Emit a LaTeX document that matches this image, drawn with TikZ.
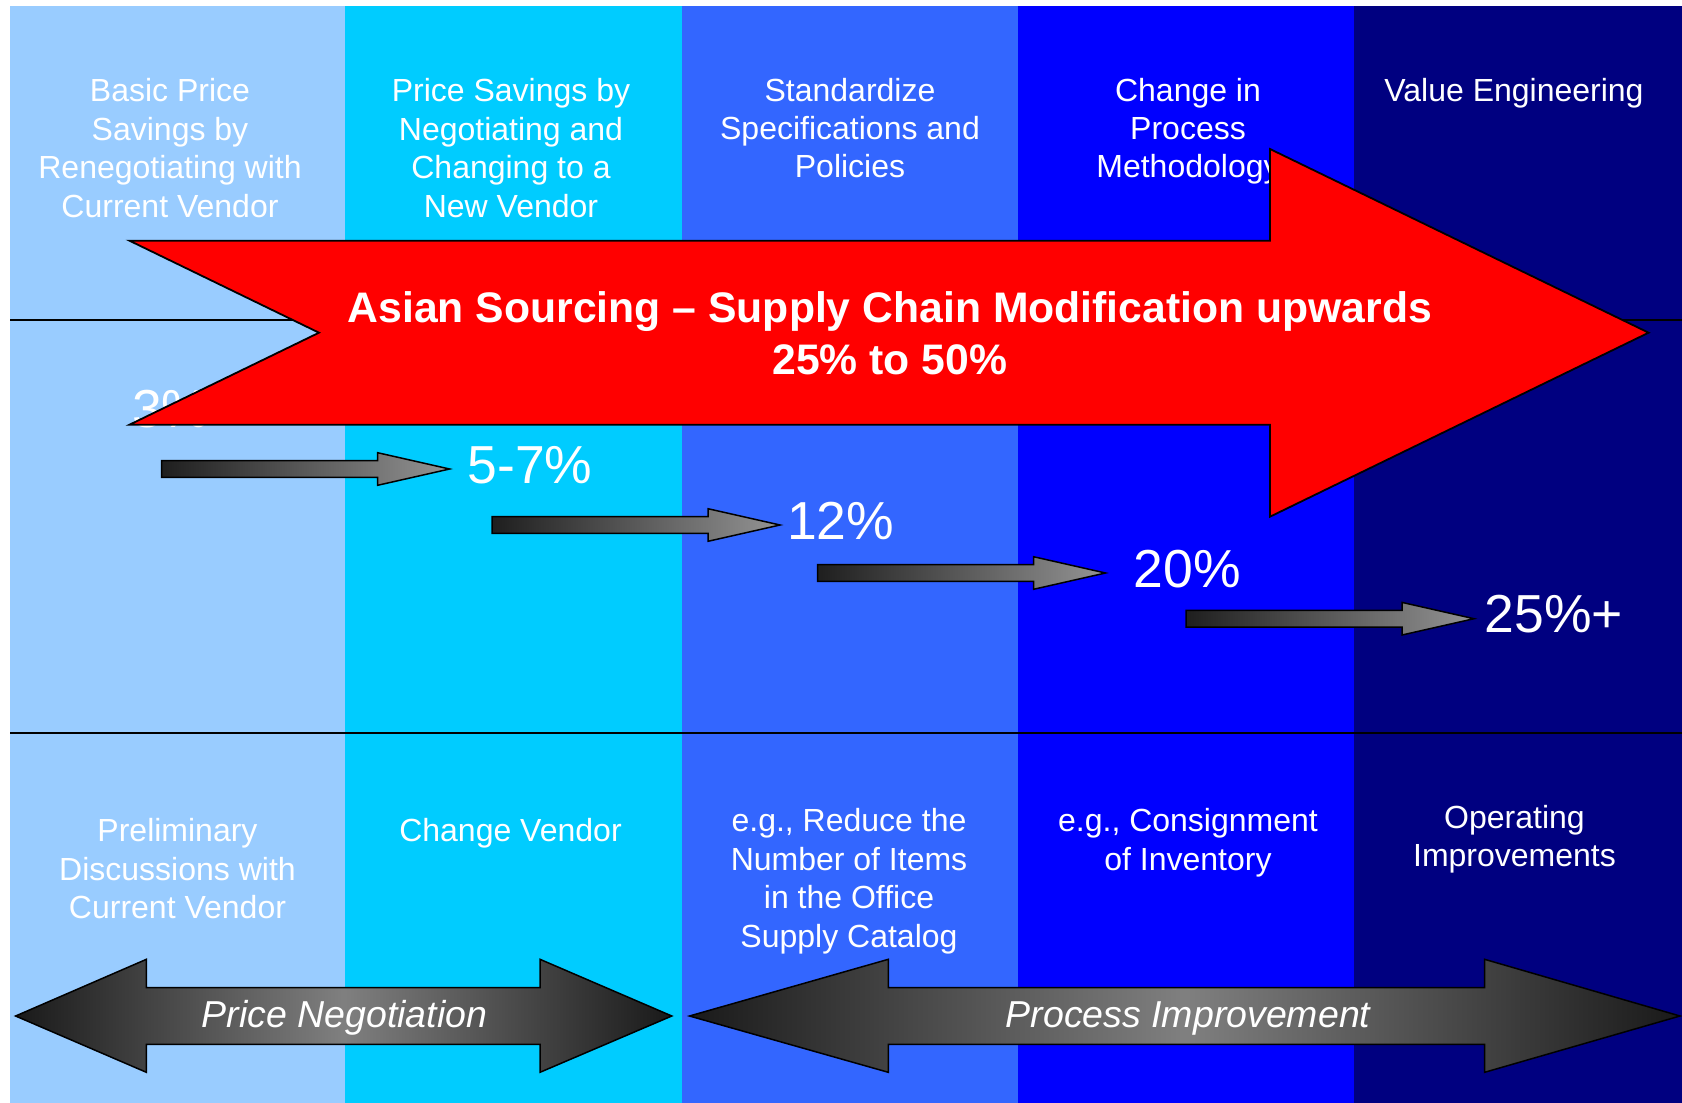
\documentclass[tikz,border=0pt]{standalone}
\usepackage{fontspec}
\setmainfont{Liberation Sans}
\definecolor{colone}{HTML}{99CCFF}
\definecolor{coltwo}{HTML}{00CCFF}
\definecolor{colthree}{HTML}{3366FF}
\definecolor{colfour}{HTML}{0000FF}
\definecolor{colfive}{HTML}{000080}
\tikzset{
  colhead/.style={anchor=north, yshift=26.9pt, align=center, inner sep=0pt, text=white, font=\fontsize{32}{38.4}\selectfont},
  bannertext/.style={anchor=north, yshift=36.2pt, align=center, inner sep=0pt, text=white, font=\fontsize{42.7}{51.7}\selectfont\bfseries},
  pctlabel/.style={anchor=base west, inner sep=0pt, text=white, font=\fontsize{53.5}{60}\selectfont},
  bandlabel/.style={anchor=base, inner sep=0pt, text=white, font=\fontsize{37.5}{42}\selectfont\itshape},
  steparrow/.style={draw=black, line width=1.5pt, left color=black!88, right color=black!42},
  bandarrow/.style={draw=black, line width=1.5pt, left color=black!90, right color=black!90, middle color=black!50}
}
\begin{document}
\begin{tikzpicture}[x=1pt,y=-1pt]
  \useasboundingbox (0,0) rectangle (1682,1103);
  %column backgrounds
  \foreach \xa/\xb/\c in {10/345/colone, 345/682/coltwo, 682/1018/colthree, 1018/1354/colfour, 1354/1682/colfive}
  \fill[\c] (\xa,5.5) rectangle (\xb,1103);
  \draw[line width=1.8pt] (10,320) -- (1682,320);
  \draw[line width=1.8pt] (10,732.7) -- (1682,732.7);
  %column headings
  \node[colhead] (basichead) at (170,101.7) {\strut Basic Price\\Savings by\\Renegotiating with\\Current Vendor};
  \node[colhead] (vendorhead) at (511,101.7) {\strut Price Savings by\\Negotiating and\\Changing to a\\New Vendor};
  \node[colhead] (standardhead) at (850,101) {\strut Standardize\\Specifications and\\Policies};
  \node[colhead] (processhead) at (1188,101) {\strut Change in\\Process\\Methodology};
  \node[colhead] (valuehead) at (1514,101) {\strut Value Engineering};
  \node[pctlabel] (pctthree) at (132,427.5) {3\%};
  %stepping arrows
  \foreach \x/\y in {161.6/469, 492/525, 817.5/573, 1186/618.7}
  \draw[steparrow] (\x,\y) ++(0,-8.3) -- ++(216,0) -- ++(0,-8) -- ++(72,16.3)
    -- ++(-72,16.3) -- ++(0,-8) -- ++(-216,0) -- cycle;
  %big red arrow
  \draw[fill=red, line width=1.8pt, line join=miter] (129.5,240.7) -- (1270,240.7) -- (1270,149) -- (1648.6,332.7)
    -- (1270,516.7) -- (1270,424.7) -- (129.5,424.7) -- (319,332.7) -- cycle;
  \node[bannertext] (bannertitle) at (889.8,322.3) {\strut Asian Sourcing -- Supply Chain Modification upwards\\25\% to 50\%};
  \node[pctlabel] (pctfive) at (467.3,483.3) {5-7\%};
  \node[pctlabel] (pcttwelve) at (787,539.5) {12\%};
  \node[pctlabel] (pcttwenty) at (1133.4,587.5) {20\%};
  \node[pctlabel] (pcttwentyfive) at (1484.4,632.7) {25\%+};
  %lower notes
  \node[colhead] (prelimnote) at (177.5,841.7) {\strut Preliminary\\Discussions with\\Current Vendor};
  \node[colhead] (changenote) at (510.5,841.7) {\strut Change Vendor};
  \node[colhead] (reducenote) at (849,831.7) {\strut e.g., Reduce the\\Number of Items\\in the Office\\Supply Catalog};
  \node[colhead] (consignnote) at (1188,831.7) {\strut e.g., Consignment\\of Inventory};
  \node[colhead] (operatenote) at (1514.5,828.3) {\strut Operating\\Improvements};
  %double arrows
  \draw[bandarrow] (15.6,1016) -- (146.4,959.3) -- (146.4,987.7) -- (540,987.7) -- (540,959.3) -- (671.8,1016)
    -- (540,1072.3) -- (540,1044.3) -- (146.4,1044.3) -- (146.4,1072.3) -- cycle;
  \draw[bandarrow] (689.5,1016) -- (888.3,959.3) -- (888.3,987.7) -- (1484.6,987.7) -- (1484.6,959.3) -- (1680,1016)
    -- (1484.6,1072.3) -- (1484.6,1044.3) -- (888.3,1044.3) -- (888.3,1072.3) -- cycle;
  \node[bandlabel] (pricelabel) at (344.5,1027.3) {Price Negotiation};
  \node[bandlabel] (processlabel) at (1188,1027.3) {Process Improvement};
\end{tikzpicture}
\end{document}
